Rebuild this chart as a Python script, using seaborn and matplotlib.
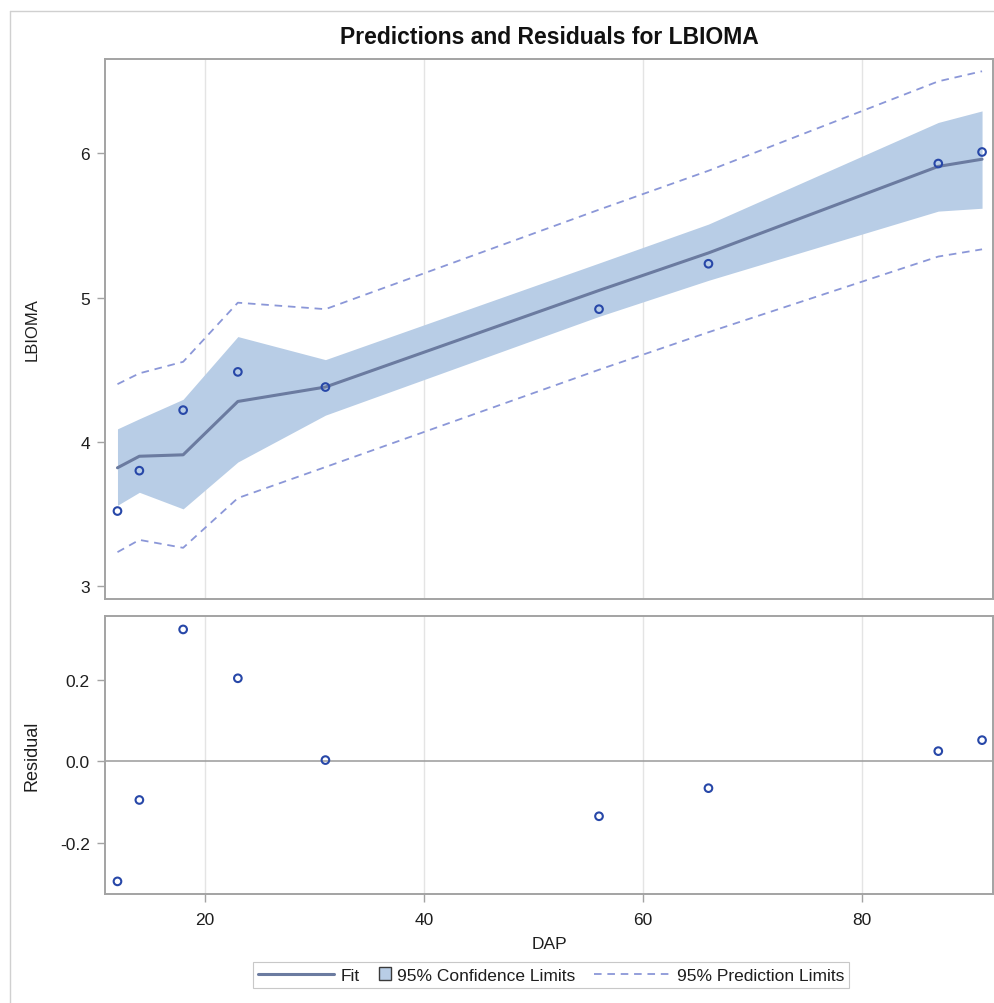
import matplotlib
matplotlib.use("Agg")
import matplotlib.pyplot as plt
import pandas as pd
import seaborn as sns
from matplotlib.lines import Line2D
from matplotlib.patches import Patch
from matplotlib.legend_handler import HandlerLine2D, HandlerPatch

# Regression output for LBIOMA on DAP
dap = [12, 14, 18, 23, 31, 56, 66, 87, 91]
lbioma = [3.52, 3.80, 4.22, 4.485, 4.38, 4.92, 5.235, 5.93, 6.01]
fitted = [3.82, 3.90, 3.91, 4.28, 4.38, 5.05, 5.31, 5.91, 5.96]
clm_lower = [3.56, 3.65, 3.535, 3.86, 4.185, 4.87, 5.12, 5.60, 5.62]
clm_upper = [4.09, 4.16, 4.295, 4.73, 4.57, 5.24, 5.51, 6.215, 6.295]
pred_lower = [3.235, 3.32, 3.265, 3.61, 3.825, 4.50, 4.76, 5.285, 5.335]
pred_upper = [4.40, 4.475, 4.555, 4.965, 4.92, 5.61, 5.88, 6.50, 6.57]
residual = [-0.295, -0.095, 0.324, 0.204, 0.003, -0.135, -0.066, 0.025, 0.052]

x_ticks = [20, 40, 60, 80]
y_ticks = [3, 4, 5, 6]
resid_ticks = [-0.2, 0.0, 0.2]

df = pd.DataFrame({
    "DAP": dap, "LBIOMA": lbioma, "Fit": fitted,
    "LCLM": clm_lower, "UCLM": clm_upper,
    "LCL": pred_lower, "UCL": pred_upper, "Residual": residual,
})

sns.set_theme(style="white")
plt.rcParams["font.family"] = ["Liberation Sans", "DejaVu Sans"]
plt.rcParams["axes.unicode_minus"] = False

FIT_C = "#6B7BA0"
BAND_C = "#B8CDE6"
PRED_C = "#8B97D8"
PT_C = "#2747A8"
FRAME_C = "#A3A3A3"
GRID_C = "#E4E4E4"
TEXT_C = "#1E1E1E"

W, H = 994, 1004
fig = plt.figure(figsize=(W / 100, H / 100), dpi=100)
fig.patch.set_facecolor("white")

left, right = 105, 993
ax1 = fig.add_axes([left / W, (H - 600) / H, (right - left) / W, 540 / H])
ax2 = fig.add_axes([left / W, (H - 895) / H, (right - left) / W, 278 / H])

xlim = (10.86, 92.0)
pt_size = 30
pt_lw = 1.5

# --- upper panel: fit, confidence band, prediction limits, observations
ax1.fill_between(df["DAP"], df["LCLM"], df["UCLM"], color=BAND_C, lw=0, zorder=1)
dash = (0, (4.2, 3.2))
sns.lineplot(data=df, x="DAP", y="UCL", ax=ax1, color=PRED_C, lw=1.3,
             linestyle=dash, zorder=2)
sns.lineplot(data=df, x="DAP", y="LCL", ax=ax1, color=PRED_C, lw=1.3,
             linestyle=dash, zorder=2)
sns.lineplot(data=df, x="DAP", y="Fit", ax=ax1, color=FIT_C, lw=2.2, zorder=3)
sns.scatterplot(data=df, x="DAP", y="LBIOMA", ax=ax1, marker="o", s=pt_size,
                facecolors="none", edgecolor=PT_C, linewidth=pt_lw, zorder=4)

ax1.set_xlim(*xlim)
ax1.set_ylim(2.91, 6.655)
ax1.set_xticks(x_ticks)
ax1.set_yticks(y_ticks)
ax1.set_yticklabels([str(v) for v in y_ticks])
ax1.set_xlabel("")
ax1.set_ylabel("LBIOMA", fontsize=12, color=TEXT_C)

# --- lower panel: residuals
ax2.axhline(0, color="#9A9A9A", lw=1.1, zorder=2)
sns.scatterplot(data=df, x="DAP", y="Residual", ax=ax2, marker="o", s=pt_size,
                facecolors="none", edgecolor=PT_C, linewidth=pt_lw, zorder=4)
ax2.set_xlim(*xlim)
ax2.set_ylim(-0.326, 0.357)
ax2.set_xticks(x_ticks)
ax2.set_xticklabels([str(v) for v in x_ticks])
ax2.set_yticks(resid_ticks)
ax2.set_yticklabels([f"{v:.1f}" for v in resid_ticks])
ax2.set_xlabel("DAP", fontsize=12.5, color=TEXT_C, labelpad=7)
ax2.set_ylabel("Residual", fontsize=13, color=TEXT_C)

for ax in (ax1, ax2):
    ax.set_axisbelow(True)
    ax.grid(axis="x", color=GRID_C, lw=1)
    ax.grid(axis="y", visible=False)
    for sp in ax.spines.values():
        sp.set_color(FRAME_C)
        sp.set_linewidth(1.4)
    ax.tick_params(axis="both", direction="out", length=5.8, width=1,
                   color=FRAME_C, labelsize=12.5, labelcolor=TEXT_C, pad=5,
                   left=True, bottom=True)
    ax.yaxis.set_label_coords((40 - left) / (right - left), 0.5)

ax1.tick_params(axis="x", bottom=False, labelbottom=False)
ax2.tick_params(axis="x", pad=7)

# --- title
fig.text(549 / W, (H - 38) / H, "Predictions and Residuals for LBIOMA",
         ha="center", va="center", fontsize=16.5, fontweight="bold", color="#111111")

# --- outer frame lines
fig.add_artist(Line2D([10 / W, 10 / W], [0, (H - 12) / H], transform=fig.transFigure,
                      color="#D0D0D0", lw=1))
fig.add_artist(Line2D([10 / W, 1], [(H - 12) / H, (H - 12) / H], transform=fig.transFigure,
                      color="#D0D0D0", lw=1))


# --- legend with per-entry handle widths
class SizedLineHandler(HandlerLine2D):
    def __init__(self, width_pt, **kw):
        super().__init__(**kw)
        self.width_pt = width_pt

    def legend_artist(self, legend, orig_handle, fontsize, handlebox):
        handlebox.width = self.width_pt
        return super().legend_artist(legend, orig_handle, fontsize, handlebox)


fit_h = Line2D([], [], color=FIT_C, lw=2.2)
ci_h = Patch(facecolor=BAND_C, edgecolor="#3A3A3A", lw=1.0)
pi_h = Line2D([], [], color=PRED_C, lw=1.3, linestyle=dash)

leg = fig.legend(
    handles=[fit_h, ci_h, pi_h],
    labels=["Fit", "95% Confidence Limits", "95% Prediction Limits"],
    loc="center", bbox_to_anchor=(551 / W, (H - 976) / H),
    ncol=3, fontsize=12.5, frameon=True, fancybox=False,
    edgecolor="#C8C8C8", framealpha=1,
    handlelength=0.7, handleheight=0.7, handletextpad=0.35,
    columnspacing=1.1, borderpad=0.3,
    handler_map={fit_h: SizedLineHandler(55), ci_h: HandlerPatch(),
                 pi_h: SizedLineHandler(55)},
)
leg.get_frame().set_linewidth(0.8)
for t in leg.get_texts():
    t.set_color(TEXT_C)

fig.savefig("out.png", dpi=100, facecolor="white")
